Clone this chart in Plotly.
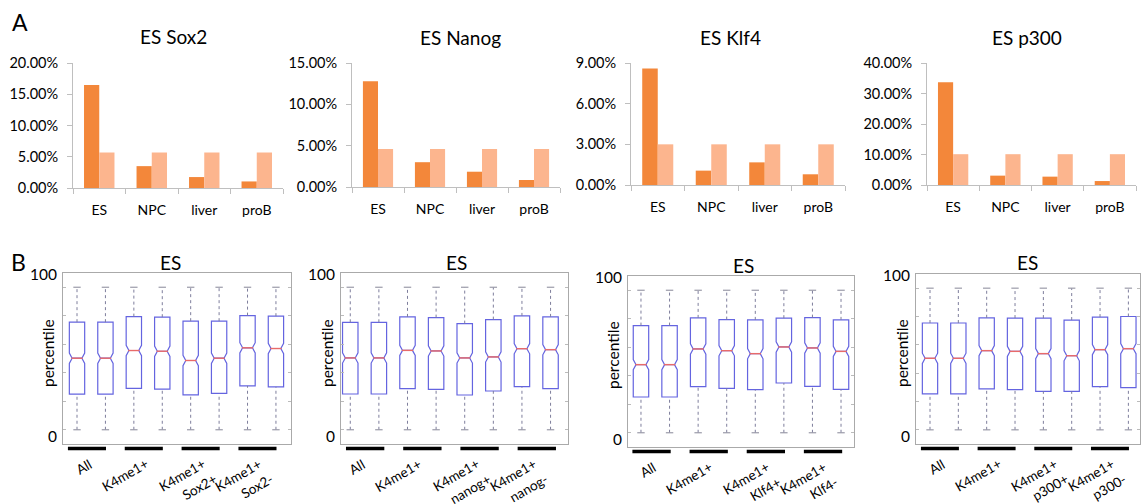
import plotly.graph_objects as go

W, H = 1141, 504
FONT = "Lato"

# ---------------- Panel A data (percent) ----------------
CELL_TYPES = ["ES", "NPC", "liver", "proB"]
BAR_TITLES = ["ES Sox2", "ES Nanog", "ES Klf4", "ES p300"]
SOX2_OBS = [16.5, 3.5, 1.75, 1.05]
SOX2_EXP = [5.68, 5.68, 5.68, 5.68]
NANOG_OBS = [12.8, 3.0, 1.85, 0.85]
NANOG_EXP = [4.6, 4.6, 4.6, 4.6]
KLF4_OBS = [8.6, 1.06, 1.67, 0.79]
KLF4_EXP = [3.0, 3.0, 3.0, 3.0]
P300_OBS = [33.7, 3.07, 2.74, 1.3]
P300_EXP = [10.1, 10.1, 10.1, 10.1]
BAR_YMAX = [20, 15, 9, 40]
BAR_DTICK = [5, 5, 3, 10]

# ---------------- Panel B data (percentile) ----------------
BOX_TITLE = "ES"
GROUPS_SOX2 = ["All", "K4me1+", "K4me1+<br>Sox2+", "K4me1+<br>Sox2-"]
GROUPS_NANOG = ["All", "K4me1+", "K4me1+<br>nanog+", "K4me1+<br>nanog-"]
GROUPS_KLF4 = ["All", "K4me1+", "K4me1+<br>Klf4+", "K4me1+<br>Klf4-"]
GROUPS_P300 = ["All", "K4me1+", "K4me1+<br>p300+", "K4me1+<br>p300-"]

SOX2_Q1 = [25.0, 25.0, 29.0, 28.5, 24.5, 25.5, 30.8, 30.1]
SOX2_MED = [50.2, 50.2, 55.6, 55.1, 48.6, 50.2, 57.5, 57.0]
SOX2_Q3 = [75.5, 75.5, 79.4, 79.0, 76.2, 76.2, 80.1, 79.7]

NANOG_Q1 = [25.1, 25.1, 28.8, 28.3, 24.4, 27.2, 30.2, 28.8]
NANOG_MED = [50.4, 50.4, 55.7, 55.3, 50.4, 51.1, 56.9, 56.2]
NANOG_Q3 = [75.4, 75.4, 79.2, 78.7, 74.5, 77.3, 79.9, 79.2]

KLF4_Q1 = [25.1, 25.1, 32.3, 31.1, 30.2, 34.9, 32.6, 30.4]
KLF4_MED = [47.8, 47.8, 58.8, 57.6, 55.5, 60.2, 59.5, 57.1]
KLF4_Q3 = [75.2, 75.2, 80.6, 79.4, 79.2, 80.4, 80.8, 79.2]

P300_Q1 = [25.4, 25.4, 28.9, 28.4, 27.2, 27.2, 30.5, 29.8]
P300_MED = [50.5, 50.5, 55.9, 55.4, 53.8, 52.3, 56.6, 57.3]
P300_Q3 = [75.4, 75.4, 79.1, 78.9, 78.9, 77.5, 79.6, 80.0]

WHISK_LO = 0
WHISK_HI = 100
BOX_YTICK_VALS = [-4.7, 108.6]
BOX_YTICK_TEXT = ["0", "100"]
BOX_GRID_VALS = [0, 20, 40, 60, 80, 100]

DARK = "#F3873A"
LIGHT = "#FCB58E"
AXGRAY = "#BFBFBF"
BOXBLUE = "#6464E0"
WHISKCOL = "#7E7E9C"
MEDRED = "#E86A6A"

bar_obs = [SOX2_OBS, NANOG_OBS, KLF4_OBS, P300_OBS]
bar_exp = [SOX2_EXP, NANOG_EXP, KLF4_EXP, P300_EXP]

box_groups = [GROUPS_SOX2, GROUPS_NANOG, GROUPS_KLF4, GROUPS_P300]
box_q1 = [SOX2_Q1, NANOG_Q1, KLF4_Q1, P300_Q1]
box_med = [SOX2_MED, NANOG_MED, KLF4_MED, P300_MED]
box_q3 = [SOX2_Q3, NANOG_Q3, KLF4_Q3, P300_Q3]

# pixel layout (left, right, top, bottom)
TOP_PX = [(73, 283, 63, 188), (352, 560, 63, 187), (631, 845, 63, 185), (927, 1136, 63, 185)]
TOP_TITLE_PX = [(173, 37), (460, 38), (730, 38), (1027, 38)]
BOX_PX = [(63, 291, 273, 444), (341, 568, 273, 444), (628, 854, 276, 447), (916, 1140, 274, 444)]
BOX_XR = [(0.507, 8.53), (0.676, 8.61), (0.546, 8.454), (0.506, 8.41)]
BOX_TITLE_PX = [(170, 262), (456, 262), (743, 265), (1027, 262)]
PERC_PX = [(48, 353), (327, 353), (613, 355), (902, 353)]
BLACKBAR_OFF = [-0.32, -0.15, -0.30, -0.32]


def xd(l, r):
    return [l / W, r / W]


def yd(t, b):
    return [1 - b / H, 1 - t / H]


def ann(text, xpx, ypx, size, angle=0):
    return dict(text=text, x=xpx / W, y=1 - ypx / H, xref="paper", yref="paper",
                showarrow=False, xanchor="center", yanchor="middle", textangle=angle,
                font=dict(size=size, family=FONT, color="black"))


fig = go.Figure()
layout = dict(
    width=W, height=H, margin=dict(l=0, r=0, t=0, b=0, autoexpand=False),
    paper_bgcolor="white", plot_bgcolor="white",
    showlegend=False, font=dict(family=FONT, color="black"),
    barmode="group", bargap=0.42, bargroupgap=0.0,
)
annotations = []
shapes = []

# ---------------- Panel A ----------------
for i in range(4):
    n = i + 1
    xa = "x" if n == 1 else f"x{n}"
    ya = "y" if n == 1 else f"y{n}"
    l, r, t, b = TOP_PX[i]
    fig.add_trace(go.Bar(x=CELL_TYPES, y=[v / 100 for v in bar_obs[i]], marker_color=DARK,
                         marker_line_width=0, xaxis=xa, yaxis=ya, offsetgroup="obs"))
    fig.add_trace(go.Bar(x=CELL_TYPES, y=[v / 100 for v in bar_exp[i]], marker_color=LIGHT,
                         marker_line_width=0, xaxis=xa, yaxis=ya, offsetgroup="exp"))
    layout[f"xaxis{'' if n == 1 else n}"] = dict(
        domain=xd(l, r), anchor=ya, type="category", tickson="boundaries", automargin=False,
        showline=True, linecolor=AXGRAY, linewidth=1, ticks="outside", ticklen=5,
        tickcolor=AXGRAY, tickfont=dict(size=14, family=FONT), ticklabelstandoff=9,
        showgrid=False, zeroline=False, fixedrange=True,
    )
    layout[f"yaxis{'' if n == 1 else n}"] = dict(
        domain=yd(t, b), anchor=xa, range=[0, BAR_YMAX[i] / 100], dtick=BAR_DTICK[i] / 100,
        tick0=0, tickformat=".2%", showline=True, linecolor=AXGRAY, linewidth=1, automargin=False,
        ticks="outside", ticklen=5, tickcolor=AXGRAY, tickfont=dict(size=14.5, family=FONT),
        ticklabelstandoff=6, showgrid=False, zeroline=False, fixedrange=True,
    )
    tx, ty = TOP_TITLE_PX[i]
    annotations.append(ann(BAR_TITLES[i], tx, ty, 19))

# ---------------- Panel B ----------------
positions = list(range(1, 9))
BOXW = 0.54
for i in range(4):
    n = i + 5
    xa = f"x{n}"
    ya = f"y{n}"
    l, r, t, b = BOX_PX[i]
    q1, med, q3 = box_q1[i], box_med[i], box_q3[i]
    fig.add_trace(go.Box(
        x=positions, q1=q1, median=med, q3=q3, lowerfence=q1, upperfence=q3,
        notched=True, notchspan=[3.6] * 8, notchwidth=0.18, width=BOXW,
        fillcolor="rgba(255,255,255,0)", line=dict(color=BOXBLUE, width=1.2),
        xaxis=xa, yaxis=ya, hoverinfo="skip", boxpoints=False,
    ))
    # whiskers
    wx, wy = [], []
    for p, a, c in zip(positions, q1, q3):
        wx += [p, p, None, p, p, None]
        wy += [WHISK_LO, a, None, c, WHISK_HI, None]
    fig.add_trace(go.Scatter(x=wx, y=wy, mode="lines", line=dict(color=WHISKCOL, width=1, dash="3px,3px"),
                             xaxis=xa, yaxis=ya, hoverinfo="skip"))
    # caps
    cx, cy = [], []
    for p in positions:
        cx += [p - 0.13, p + 0.13, None, p - 0.13, p + 0.13, None]
        cy += [WHISK_LO, WHISK_LO, None, WHISK_HI, WHISK_HI, None]
    fig.add_trace(go.Scatter(x=cx, y=cy, mode="lines", line=dict(color="#9A9AA8", width=1.2),
                             xaxis=xa, yaxis=ya, hoverinfo="skip"))
    # medians
    mx, my = [], []
    for p, m in zip(positions, med):
        mx += [p - 0.2, p + 0.2, None]
        my += [m, m, None]
    fig.add_trace(go.Scatter(x=mx, y=my, mode="lines", line=dict(color=MEDRED, width=1.4),
                             xaxis=xa, yaxis=ya, hoverinfo="skip"))

    layout[f"xaxis{n}"] = dict(
        domain=xd(l, r), anchor=ya, range=list(BOX_XR[i]), showline=True, mirror=True,
        linecolor="#AAAAAA", linewidth=1, ticks="", showticklabels=False, automargin=False,
        showgrid=False, zeroline=False, fixedrange=True,
    )
    layout[f"yaxis{n}"] = dict(
        domain=yd(t, b), anchor=xa, range=[-10, 110], showline=True, mirror="allticks",
        linecolor="#AAAAAA", linewidth=1, ticks="", tickvals=BOX_YTICK_VALS, automargin=False,
        ticktext=BOX_YTICK_TEXT, tickfont=dict(size=15.5, family=FONT), ticklabelstandoff=2,
        minor=dict(tickvals=BOX_GRID_VALS, ticks="inside", ticklen=3, tickcolor="#BBBBBB"),
        showgrid=False, zeroline=False, fixedrange=True,
    )
    for k, label in enumerate(box_groups[i]):
        s = 1 + 2 * k + BLACKBAR_OFF[i]
        shapes.append(dict(type="line", xref=xa, yref=f"{ya} domain", x0=s, x1=s + 1.34,
                           y0=-0.026, y1=-0.026, line=dict(color="black", width=3.5)))
        for j, line in enumerate(label.split("<br>")):
            annotations.append(dict(
                text=line, x=1.5 + 2 * k, y=1 - (b + 9) / H, xref=xa, yref="paper",
                xanchor="right", yanchor="top", xshift=6 + 11 * j, yshift=-15 * j,
                showarrow=False, textangle=-30,
                font=dict(size=13.5, family=FONT, color="black"),
            ))
    tx, ty = BOX_TITLE_PX[i]
    annotations.append(ann(BOX_TITLE, tx, ty, 19))
    px_, py_ = PERC_PX[i]
    annotations.append(ann("percentile", px_, py_, 15.5, -90))

annotations.append(ann("A", 20, 22, 23))
annotations.append(ann("B", 18, 262, 23))

layout["annotations"] = annotations
layout["shapes"] = shapes
fig.update_layout(**layout)
fig.write_html(
    "out.html",
    config={"displayModeBar": False},
    post_script="document.body.style.margin='0';document.body.style.padding='0';"
                "document.body.style.overflow='hidden';",
)
